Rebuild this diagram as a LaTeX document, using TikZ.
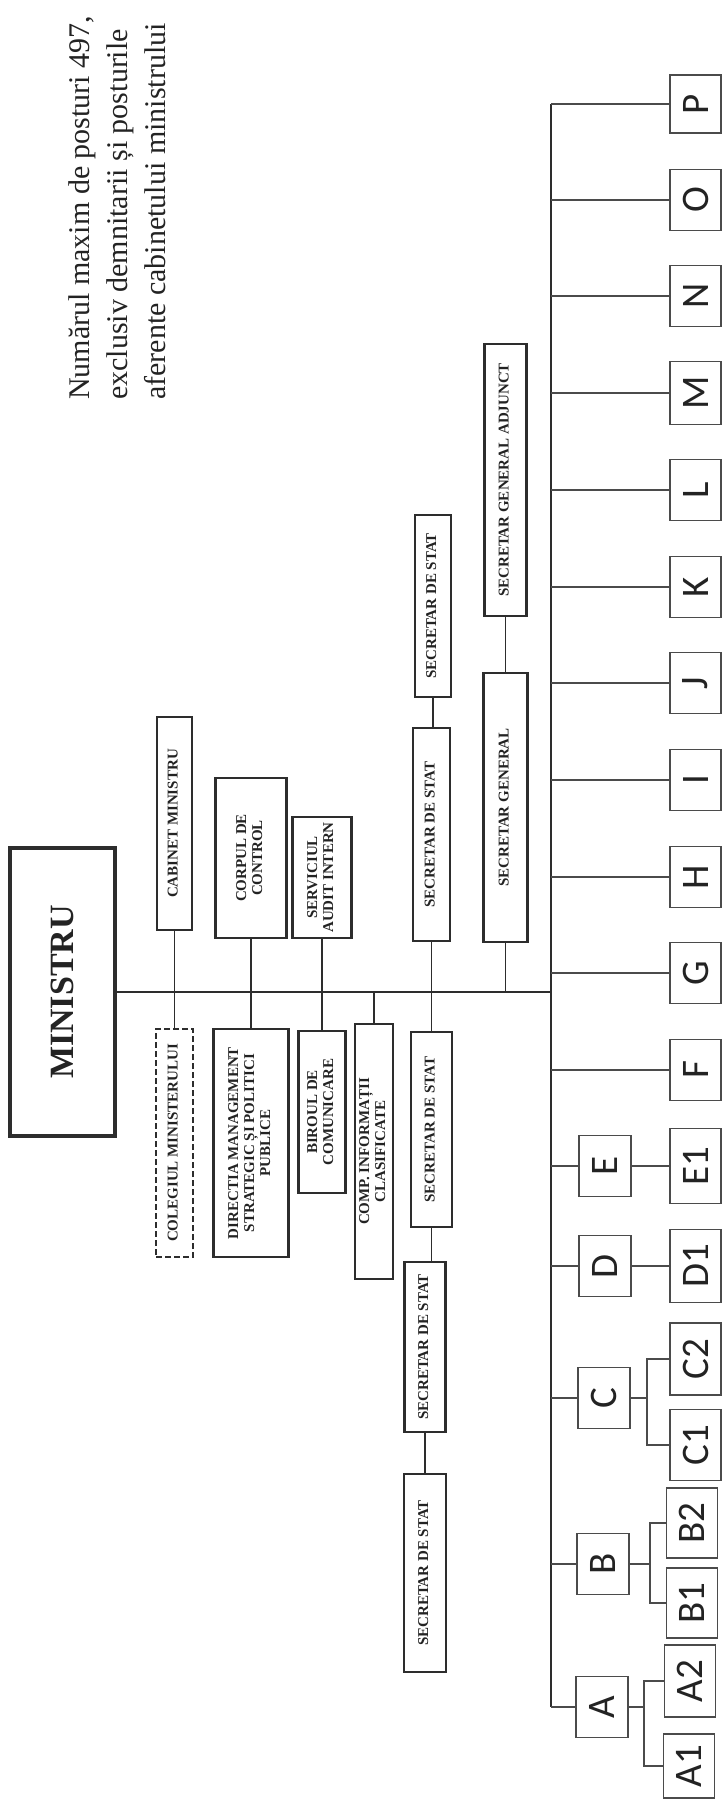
\documentclass[tikz,border=0pt]{standalone}
\usepackage{fontspec}
\setmainfont{Liberation Serif}
\newfontfamily\lettf{Carlito}
\usepackage{graphicx}
\definecolor{ink}{RGB}{45,45,45}
\definecolor{lnk}{RGB}{75,75,75}
\definecolor{txt}{RGB}{35,35,35}
\newcommand{\vtxt}[1]{\rotatebox{90}{\begin{tabular}{@{}c@{}}#1\end{tabular}}}
\begin{document}
\begin{tikzpicture}[x=1pt,y=-1pt,
  org/.style={draw=ink, line width=2.2pt, inner sep=0pt, text=txt, font=\bfseries\fontsize{15}{16}\selectfont},
  dashbox/.style={org, dash pattern=on 6pt off 3pt},
  conn/.style={draw=ink, line width=1.7pt},
  spine/.style={draw=ink, line width=2.8pt},
  busline/.style={draw=ink, line width=2.2pt},
  letr/.style={draw=lnk, line width=1.7pt, inner sep=0pt, text=txt, font=\lettf\fontsize{39}{41}\selectfont},
  outer/.style={letr, minimum width=51pt},
  inner/.style={letr, minimum width=52pt, minimum height=61pt},
  lconn/.style={draw=lnk, line width=1.7pt}
]
\useasboundingbox[fill=white] (0,0) rectangle (726,1800);

% note
\node[anchor=south west, inner sep=0pt, text=txt, font=\fontsize{30}{38}\selectfont] (note) at (63,400)
  {\rotatebox{90}{\begin{tabular}{@{}l@{}}Numărul maxim de posturi 497,\\ exclusiv demnitarii și posturile\\ aferente cabinetului ministrului\end{tabular}}};

% minister
\node[draw=ink, line width=4pt, inner sep=0pt, minimum width=105pt, minimum height=288pt, text=txt,
  font=\bfseries\fontsize{34}{36}\selectfont] (min) at (62.5,992) {\rotatebox{90}{MINISTRU}};

% upper boxes
\node[org, minimum width=35pt, minimum height=213pt] (cab) at (174.5,823.5) {\vtxt{CABINET MINISTRU}};
\node[org, minimum width=71pt, minimum height=160pt] (corp) at (251,858) {\vtxt{CORPUL DE\\CONTROL}};
\node[org, minimum width=59pt, minimum height=121pt] (serv) at (322,877.5) {\vtxt{SERVICIUL\\AUDIT INTERN}};
\node[org, minimum width=37pt, minimum height=213pt] (ssu1) at (431.5,834.5) {\vtxt{SECRETAR DE STAT}};
\node[org, minimum width=36pt, minimum height=182pt] (ssu2) at (433,606) {\vtxt{SECRETAR DE STAT}};
\node[org, minimum width=44pt, minimum height=269pt] (sg) at (505.5,807.5) {\vtxt{SECRETAR GENERAL}};
\node[org, minimum width=42pt, minimum height=272pt] (sga) at (505.5,480) {\vtxt{SECRETAR GENERAL ADJUNCT}};

% lower boxes
\node[dashbox, minimum width=37pt, minimum height=228pt] (col) at (174.5,1143) {\vtxt{COLEGIUL MINISTERULUI}};
\node[org, minimum width=75pt, minimum height=228pt] (dir) at (251,1143) {\vtxt{DIRECTIA MANAGEMENT\\STRATEGIC ȘI POLITICI\\PUBLICE}};
\node[org, minimum width=47pt, minimum height=162pt] (bir) at (322,1112) {\vtxt{BIROUL DE\\COMUNICARE}};
\node[org, minimum width=38pt, minimum height=255pt] (comp) at (374,1151.5) {\vtxt{COMP. INFORMAȚII\\CLASIFICATE}};
\node[org, minimum width=41pt, minimum height=195pt] (ssl1) at (431.5,1129.5) {\vtxt{SECRETAR DE STAT}};
\node[org, minimum width=41pt, minimum height=170pt] (ssl2) at (425,1347) {\vtxt{SECRETAR DE STAT}};
\node[org, minimum width=42pt, minimum height=198pt] (ssl3) at (425,1573) {\vtxt{SECRETAR DE STAT}};

% bus
\coordinate (bt) at (551,104);
\coordinate (bb) at (551,1707);
\draw[busline] (bt) -- (bb);
\draw[spine] (min.east) -- (min.east -| bt);

% connectors left part
\draw[conn] (cab.south) -- (col.north);
\draw[conn] (corp.south) -- (dir.north);
\draw[conn] (serv.south) -- (bir.north);
\draw[conn] (ssu1.south) -- (ssu1.south |- ssl1.north);
\draw[conn] (ssu2.south) -- (ssu2.south |- ssu1.north);
\draw[conn] (sga.south) -- (sg.north);
\draw[conn] (sg.south) -- (sg.south |- min.east);
\draw[conn] (comp.north) -- (comp.north |- min.east);
\draw[conn] (ssl1.south) -- (ssl1.south |- ssl2.north);
\draw[conn] (ssl2.south) -- (ssl3.north);

% outer letter boxes
\node[outer, minimum height=58pt] (P) at (695.5,104) {\rotatebox{90}{P}};
\node[outer, minimum height=61pt] (O) at (695.5,200) {\rotatebox{90}{O}};
\node[outer, minimum height=61pt] (N) at (695.5,296) {\rotatebox{90}{N}};
\node[outer, minimum height=63pt] (M) at (695.5,393) {\rotatebox{90}{M}};
\node[outer, minimum height=61pt] (L) at (695.5,490) {\rotatebox{90}{L}};
\node[outer, minimum height=61pt] (K) at (695.5,587) {\rotatebox{90}{K}};
\node[outer, minimum height=61pt] (J) at (695.5,683) {\rotatebox{90}{J}};
\node[outer, minimum height=61pt] (I) at (695.5,780) {\rotatebox{90}{I}};
\node[outer, minimum height=61pt] (H) at (695.5,877) {\rotatebox{90}{H}};
\node[outer, minimum height=61pt] (G) at (695.5,973) {\rotatebox{90}{G}};
\node[outer, minimum height=61pt] (F) at (695.5,1070) {\rotatebox{90}{F}};
\node[outer, minimum height=75pt] (E1) at (695.5,1166) {\rotatebox{90}{E1}};
\node[outer, minimum height=73pt] (D1) at (695.5,1266) {\rotatebox{90}{D1}};
\node[outer, minimum height=72pt] (C2) at (695.5,1359) {\rotatebox{90}{C2}};
\node[outer, minimum height=71pt] (C1) at (695.5,1445) {\rotatebox{90}{C1}};
\node[outer, minimum height=70pt] (B2) at (692,1523) {\rotatebox{90}{B2}};
\node[outer, minimum height=70pt] (B1) at (692,1603) {\rotatebox{90}{B1}};
\node[outer, minimum height=72pt] (A2) at (690,1681) {\rotatebox{90}{A2}};
\node[outer, minimum height=64pt] (A1) at (689,1766) {\rotatebox{90}{A1}};

% inner letter boxes
\node[inner] (E) at (605,1166) {\rotatebox{90}{E}};
\node[inner] (D) at (605,1266) {\rotatebox{90}{D}};
\node[inner] (C) at (604,1398) {\rotatebox{90}{C}};
\node[inner] (B) at (603,1564) {\rotatebox{90}{B}};
\node[inner] (A) at (602,1707) {\rotatebox{90}{A}};

% bus branches
\foreach \n in {P,O,N,M,L,K,J,I,H,G,F,E,D,C,B,A}
  \draw[lconn] (\n.west) -- (\n.west -| bt);

% sub-connectors
\draw[lconn] (E.east) -- (E1.west);
\draw[lconn] (D.east) -- (D1.west);
\coordinate (cbr) at (647,1398);
\coordinate (bbr) at (650,1564);
\coordinate (abr) at (644,1707);
\draw[lconn] (C.east) -- (cbr);
\draw[lconn] (C2.west) -| (cbr) |- (C1.west);
\draw[lconn] (B.east) -- (bbr);
\draw[lconn] (B2.west) -| (bbr) |- (B1.west);
\draw[lconn] (A.east) -- (abr);
\draw[lconn] (A2.west) -| (abr) |- (A1.west);
\end{tikzpicture}
\end{document}
